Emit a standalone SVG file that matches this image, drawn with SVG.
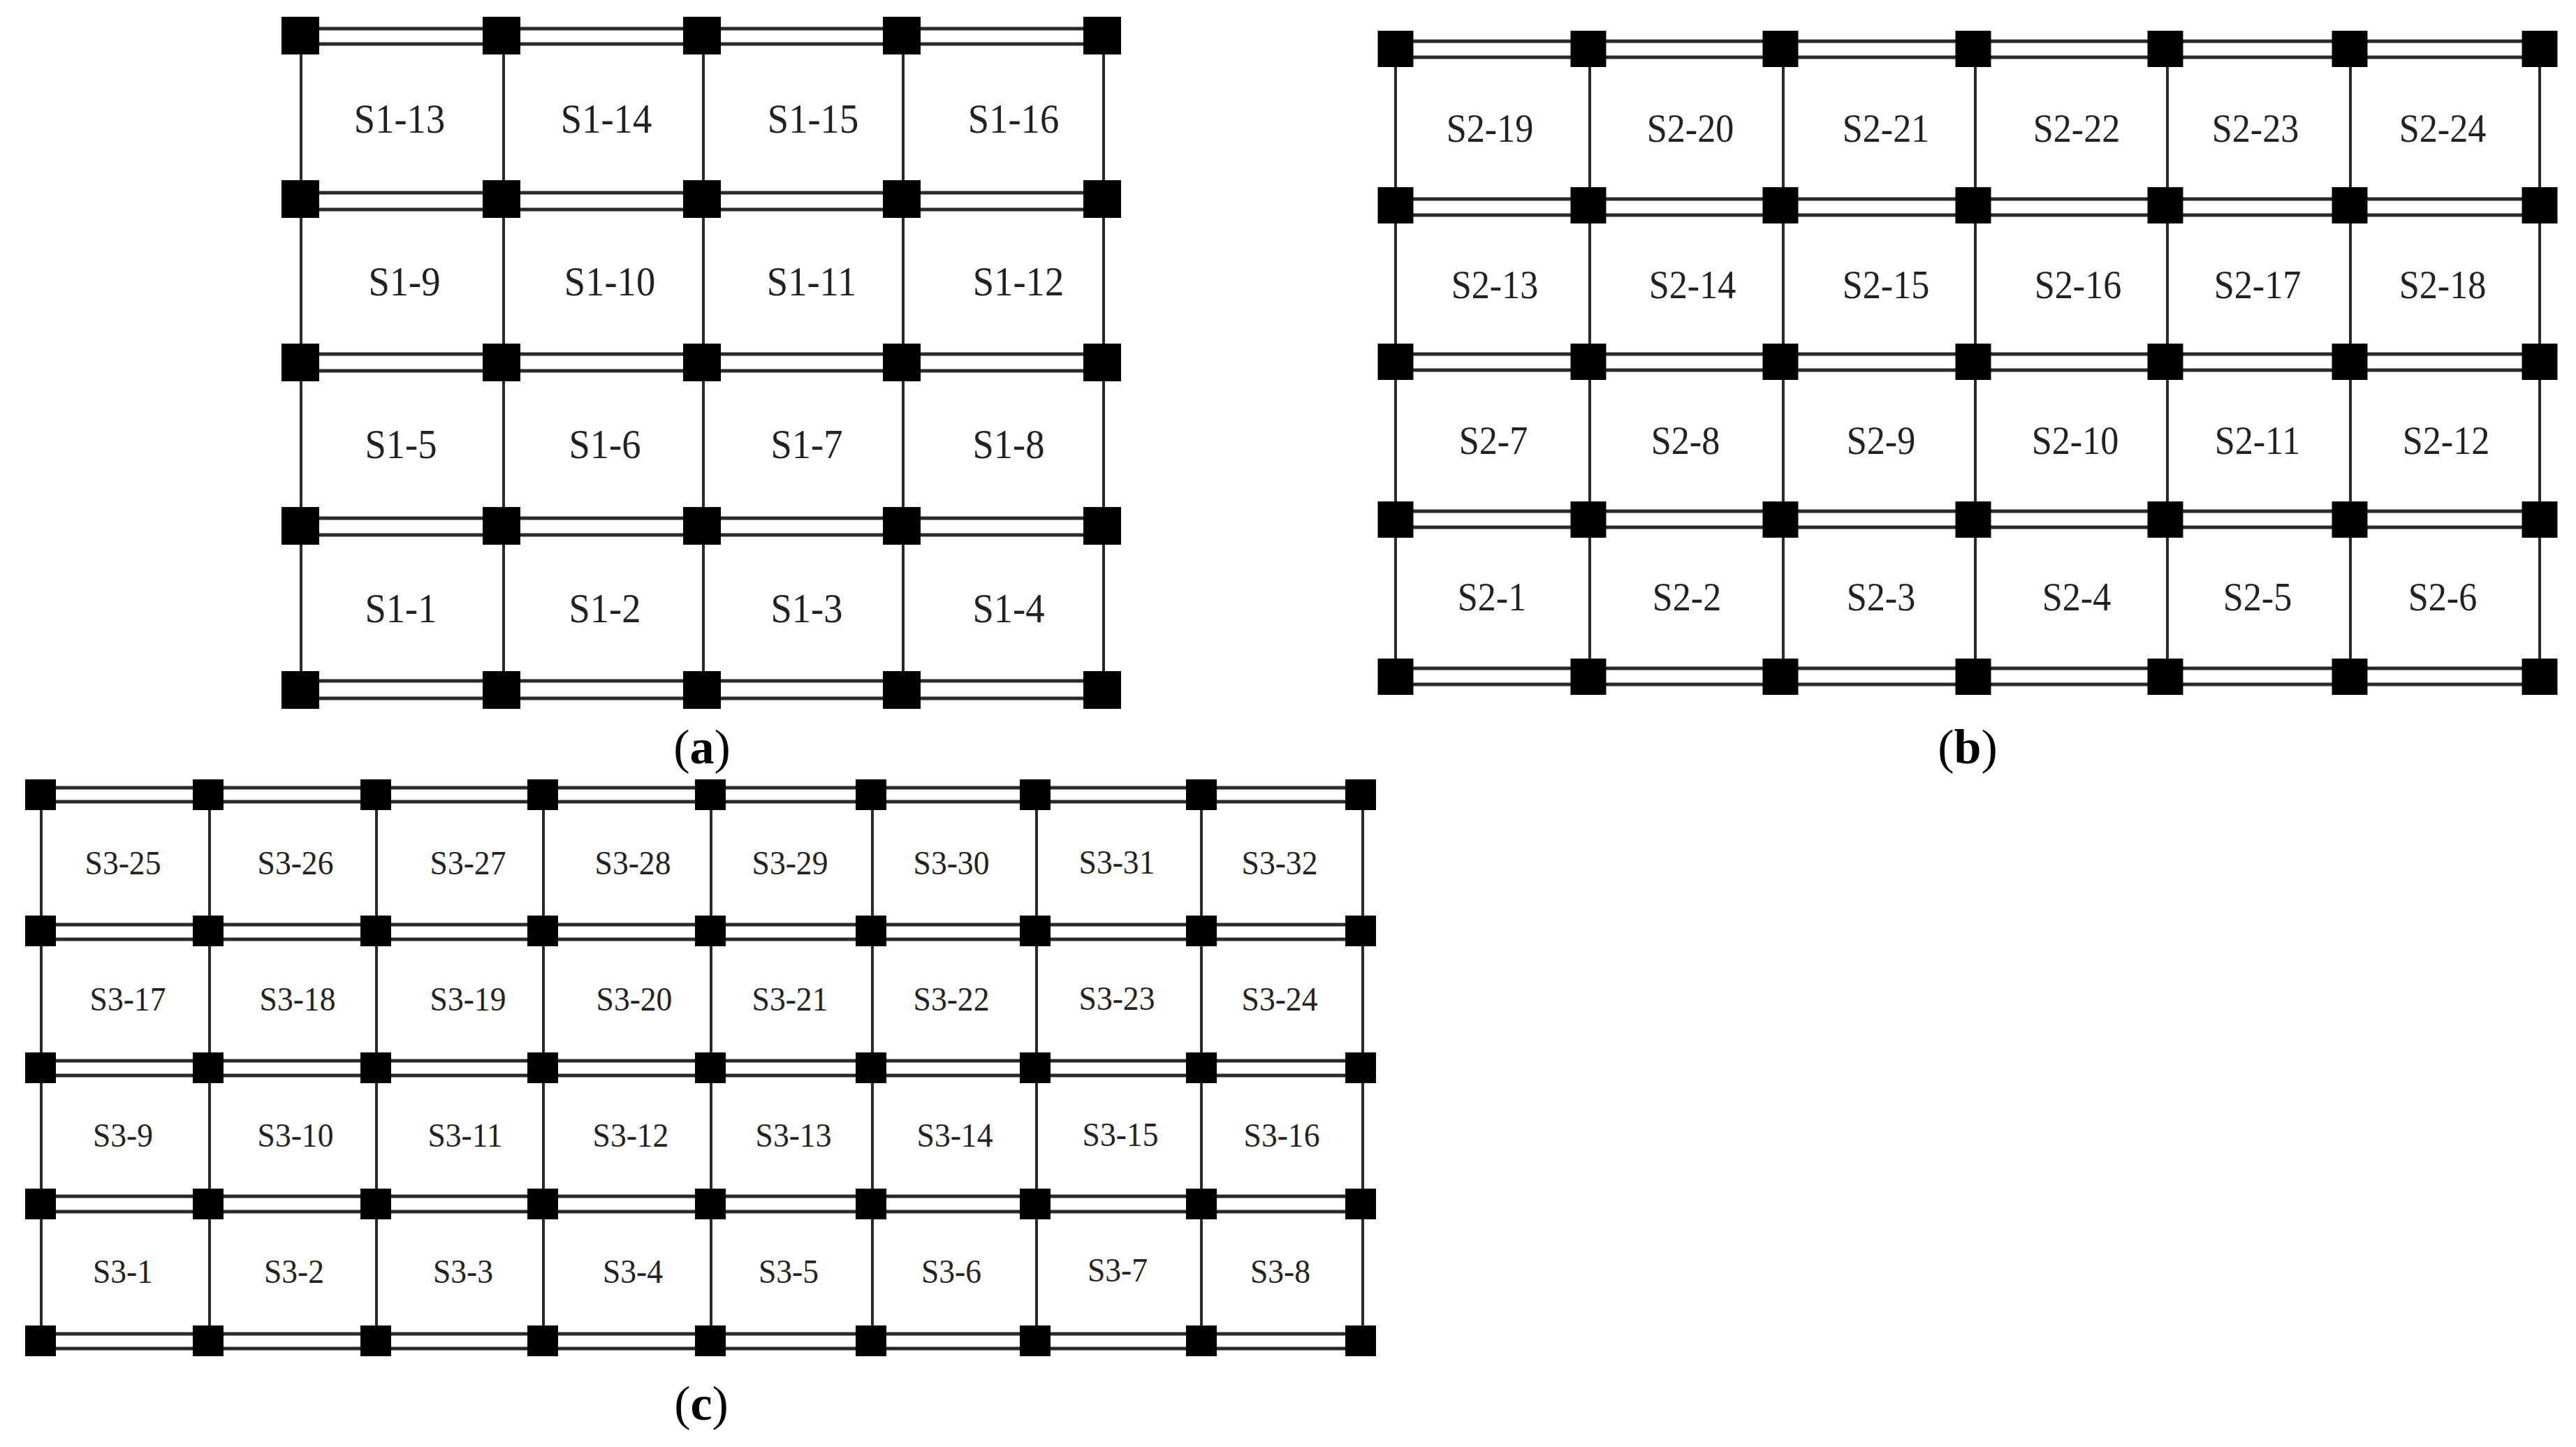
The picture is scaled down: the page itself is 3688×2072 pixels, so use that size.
<svg xmlns="http://www.w3.org/2000/svg" width="3688" height="2072" viewBox="0 0 3688 2072">
<style>
text{font-family:"Liberation Serif","Times New Roman",serif;fill:#222;text-anchor:middle;transform-box:fill-box;transform-origin:center}
.a{font-size:60px;transform:scaleX(.91)}
.b{font-size:58px;transform:scaleX(.9)}
.c{font-size:49px;transform:scaleX(.93)}
.cap{font-size:70px;fill:#000}
.cap tspan{font-weight:bold}
.h{fill:none;stroke:#2a2a2a;stroke-width:5}
.v{fill:none;stroke:#2a2a2a;stroke-width:4}
</style>
<defs>
<rect id="na" x="-27" y="-27" width="54" height="54"/>
<rect id="nb" x="-25.500" y="-26" width="51" height="52"/>
<rect id="nc" x="-22" y="-22" width="44" height="44"/>
</defs>
<rect width="3688" height="2072" fill="#fff"/>
<g id="connectors">
<path class="h" d="M430 41H1578M430 63H1578M430 276H1578M430 300H1578M430 507H1578M430 531H1578M430 742H1578M430 766H1578M430 975H1578M430 1000H1578"/>
<path class="v" d="M431 51V988M721 51V988M1007 51V988M1293 51V988M1580 51V988"/>
<path class="h" d="M1998 59H3636M1998 82H3636M1998 285H3636M1998 308H3636M1998 507H3636M1998 530H3636M1998 732H3636M1998 755H3636M1998 957H3636M1998 980H3636"/>
<path class="v" d="M1998 70V969M2276 70V969M2553 70V969M2828 70V969M3103 70V969M3365 70V969M3636 70V969"/>
<path class="h" d="M59 1128H1948M59 1148H1948M59 1324H1948M59 1345H1948M59 1519H1948M59 1540H1948M59 1713H1948M59 1735H1948M59 1910H1948M59 1931H1948"/>
<path class="v" d="M59 1138V1919M300 1138V1919M539 1138V1919M778 1138V1919M1018 1138V1919M1249 1138V1919M1484 1138V1919M1720 1138V1919M1951 1138V1919"/>
</g>
<g id="panel-a-supports">
<use href="#na" x="430" y="51"/><use href="#na" x="718" y="51"/><use href="#na" x="1005" y="51"/><use href="#na" x="1291" y="51"/><use href="#na" x="1578" y="51"/>
<use href="#na" x="430" y="285"/><use href="#na" x="718" y="285"/><use href="#na" x="1005" y="285"/><use href="#na" x="1291" y="285"/><use href="#na" x="1578" y="285"/>
<use href="#na" x="430" y="519"/><use href="#na" x="718" y="519"/><use href="#na" x="1005" y="519"/><use href="#na" x="1291" y="519"/><use href="#na" x="1578" y="519"/>
<use href="#na" x="430" y="753"/><use href="#na" x="718" y="753"/><use href="#na" x="1005" y="753"/><use href="#na" x="1291" y="753"/><use href="#na" x="1578" y="753"/>
<use href="#na" x="430" y="988"/><use href="#na" x="718" y="988"/><use href="#na" x="1005" y="988"/><use href="#na" x="1291" y="988"/><use href="#na" x="1578" y="988"/>
</g>
<g id="panel-b-supports">
<use href="#nb" x="1998" y="70"/><use href="#nb" x="2274" y="70"/><use href="#nb" x="2549" y="70"/><use href="#nb" x="2825" y="70"/><use href="#nb" x="3100" y="70"/><use href="#nb" x="3364" y="70"/><use href="#nb" x="3636" y="70"/>
<use href="#nb" x="1998" y="294"/><use href="#nb" x="2274" y="294"/><use href="#nb" x="2549" y="294"/><use href="#nb" x="2825" y="294"/><use href="#nb" x="3100" y="294"/><use href="#nb" x="3364" y="294"/><use href="#nb" x="3636" y="294"/>
<use href="#nb" x="1998" y="518"/><use href="#nb" x="2274" y="518"/><use href="#nb" x="2549" y="518"/><use href="#nb" x="2825" y="518"/><use href="#nb" x="3100" y="518"/><use href="#nb" x="3364" y="518"/><use href="#nb" x="3636" y="518"/>
<use href="#nb" x="1998" y="744"/><use href="#nb" x="2274" y="744"/><use href="#nb" x="2549" y="744"/><use href="#nb" x="2825" y="744"/><use href="#nb" x="3100" y="744"/><use href="#nb" x="3364" y="744"/><use href="#nb" x="3636" y="744"/>
<use href="#nb" x="1998" y="969"/><use href="#nb" x="2274" y="969"/><use href="#nb" x="2549" y="969"/><use href="#nb" x="2825" y="969"/><use href="#nb" x="3100" y="969"/><use href="#nb" x="3364" y="969"/><use href="#nb" x="3636" y="969"/>
</g>
<g id="panel-c-supports">
<use href="#nc" x="58" y="1138"/><use href="#nc" x="298" y="1138"/><use href="#nc" x="538" y="1138"/><use href="#nc" x="777" y="1138"/><use href="#nc" x="1017" y="1138"/><use href="#nc" x="1247" y="1138"/><use href="#nc" x="1482" y="1138"/><use href="#nc" x="1720" y="1138"/><use href="#nc" x="1948" y="1138"/>
<use href="#nc" x="58" y="1333"/><use href="#nc" x="298" y="1333"/><use href="#nc" x="538" y="1333"/><use href="#nc" x="777" y="1333"/><use href="#nc" x="1017" y="1333"/><use href="#nc" x="1247" y="1333"/><use href="#nc" x="1482" y="1333"/><use href="#nc" x="1720" y="1333"/><use href="#nc" x="1948" y="1333"/>
<use href="#nc" x="58" y="1529"/><use href="#nc" x="298" y="1529"/><use href="#nc" x="538" y="1529"/><use href="#nc" x="777" y="1529"/><use href="#nc" x="1017" y="1529"/><use href="#nc" x="1247" y="1529"/><use href="#nc" x="1482" y="1529"/><use href="#nc" x="1720" y="1529"/><use href="#nc" x="1948" y="1529"/>
<use href="#nc" x="58" y="1724"/><use href="#nc" x="298" y="1724"/><use href="#nc" x="538" y="1724"/><use href="#nc" x="777" y="1724"/><use href="#nc" x="1017" y="1724"/><use href="#nc" x="1247" y="1724"/><use href="#nc" x="1482" y="1724"/><use href="#nc" x="1720" y="1724"/><use href="#nc" x="1948" y="1724"/>
<use href="#nc" x="58" y="1920"/><use href="#nc" x="298" y="1920"/><use href="#nc" x="538" y="1920"/><use href="#nc" x="777" y="1920"/><use href="#nc" x="1017" y="1920"/><use href="#nc" x="1247" y="1920"/><use href="#nc" x="1482" y="1920"/><use href="#nc" x="1720" y="1920"/><use href="#nc" x="1948" y="1920"/>
</g>
<g id="panel-a-labels">
<text class="a" x="572" y="190">S1-13</text><text class="a" x="868" y="190">S1-14</text><text class="a" x="1164" y="190">S1-15</text><text class="a" x="1451" y="190">S1-16</text>
<text class="a" x="579" y="423">S1-9</text><text class="a" x="873" y="423">S1-10</text><text class="a" x="1162" y="423">S1-11</text><text class="a" x="1458" y="423">S1-12</text>
<text class="a" x="574" y="656">S1-5</text><text class="a" x="866" y="656">S1-6</text><text class="a" x="1155" y="656">S1-7</text><text class="a" x="1444" y="656">S1-8</text>
<text class="a" x="574" y="891">S1-1</text><text class="a" x="866" y="891">S1-2</text><text class="a" x="1155" y="891">S1-3</text><text class="a" x="1444" y="891">S1-4</text>
</g>
<g id="panel-b-labels">
<text class="b" x="2133" y="203">S2-19</text><text class="b" x="2420" y="203">S2-20</text><text class="b" x="2700" y="203">S2-21</text><text class="b" x="2973" y="203">S2-22</text><text class="b" x="3229" y="203">S2-23</text><text class="b" x="3497" y="203">S2-24</text>
<text class="b" x="2140" y="427">S2-13</text><text class="b" x="2423" y="427">S2-14</text><text class="b" x="2700" y="427">S2-15</text><text class="b" x="2975" y="427">S2-16</text><text class="b" x="3232" y="427">S2-17</text><text class="b" x="3497" y="427">S2-18</text>
<text class="b" x="2138" y="650">S2-7</text><text class="b" x="2413" y="650">S2-8</text><text class="b" x="2693" y="650">S2-9</text><text class="b" x="2971" y="650">S2-10</text><text class="b" x="3232" y="650">S2-11</text><text class="b" x="3502" y="650">S2-12</text>
<text class="b" x="2136" y="874">S2-1</text><text class="b" x="2415" y="874">S2-2</text><text class="b" x="2693" y="874">S2-3</text><text class="b" x="2973" y="874">S2-4</text><text class="b" x="3232" y="874">S2-5</text><text class="b" x="3497" y="874">S2-6</text>
</g>
<g id="panel-c-labels">
<text class="c" x="176" y="1252">S3-25</text><text class="c" x="423" y="1252">S3-26</text><text class="c" x="670" y="1252">S3-27</text><text class="c" x="906" y="1252">S3-28</text><text class="c" x="1131" y="1252">S3-29</text><text class="c" x="1362" y="1252">S3-30</text><text class="c" x="1599" y="1251">S3-31</text><text class="c" x="1832" y="1252">S3-32</text>
<text class="c" x="183" y="1447">S3-17</text><text class="c" x="426" y="1447">S3-18</text><text class="c" x="670" y="1447">S3-19</text><text class="c" x="908" y="1447">S3-20</text><text class="c" x="1131" y="1447">S3-21</text><text class="c" x="1362" y="1447">S3-22</text><text class="c" x="1599" y="1446">S3-23</text><text class="c" x="1832" y="1447">S3-24</text>
<text class="c" x="176" y="1642">S3-9</text><text class="c" x="423" y="1642">S3-10</text><text class="c" x="666" y="1642">S3-11</text><text class="c" x="903" y="1642">S3-12</text><text class="c" x="1136" y="1642">S3-13</text><text class="c" x="1367" y="1642">S3-14</text><text class="c" x="1604" y="1641">S3-15</text><text class="c" x="1835" y="1642">S3-16</text>
<text class="c" x="176" y="1837">S3-1</text><text class="c" x="421" y="1837">S3-2</text><text class="c" x="663" y="1837">S3-3</text><text class="c" x="906" y="1837">S3-4</text><text class="c" x="1129" y="1837">S3-5</text><text class="c" x="1362" y="1837">S3-6</text><text class="c" x="1600" y="1835">S3-7</text><text class="c" x="1833" y="1837">S3-8</text>
</g>
<g id="captions">
<text class="cap" x="1005" y="1093">(<tspan>a</tspan>)</text>
<text class="cap" x="2817" y="1093">(<tspan>b</tspan>)</text>
<text class="cap" x="1004" y="2033">(<tspan>c</tspan>)</text>
</g>
</svg>
